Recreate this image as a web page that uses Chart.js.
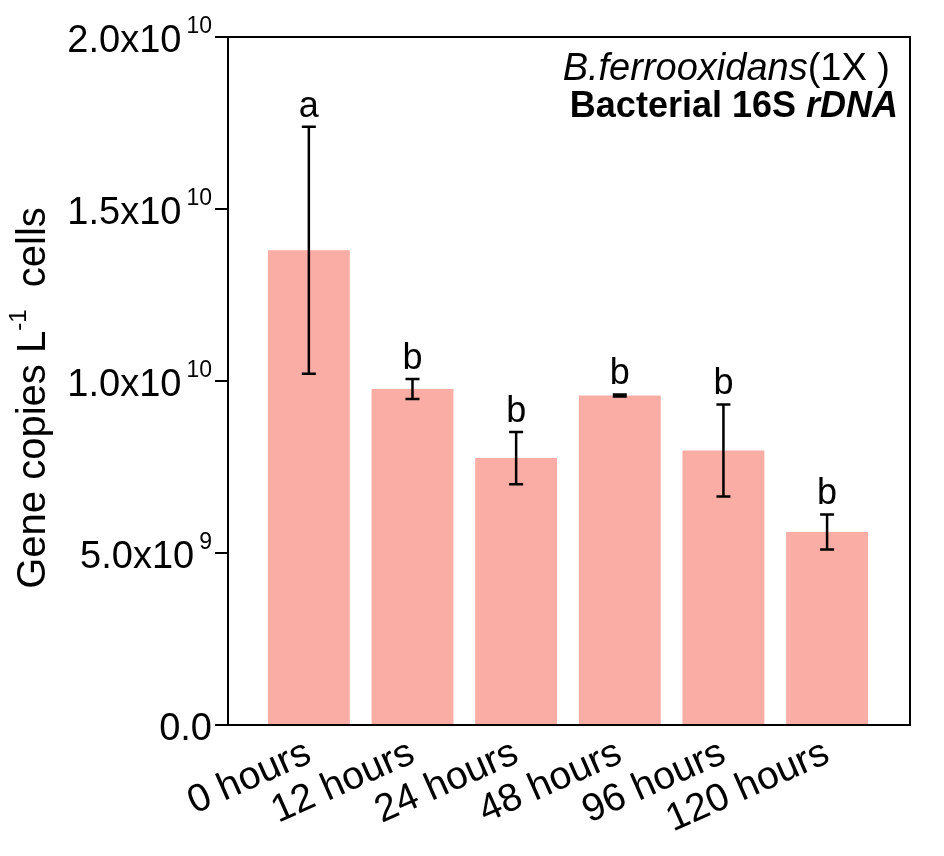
<!DOCTYPE html>
<html>
<head>
<meta charset="utf-8">
<script src="https://cdn.jsdelivr.net/npm/chart.js@4.4.0/dist/chart.umd.min.js"></script>
<style>
html, body { margin: 0; padding: 0; background: #fff; }
#wrap { width: 944px; height: 856px; }
</style>
</head>
<body>
<div id="wrap"><canvas id="chart"></canvas></div>
<script>
// data
var categories = ['0 hours', '12 hours', '24 hours', '48 hours', '96 hours', '120 hours'];
var geneCopies = [1.380e10, 0.977e10, 0.776e10, 0.958e10, 0.798e10, 0.561e10];
var errors = [0.359e10, 0.029e10, 0.076e10, 0.003e10, 0.134e10, 0.051e10];
var letters = ['a', 'b', 'b', 'b', 'b', 'b'];
var yTicks = [0, 5e9, 1e10, 1.5e10, 2e10];

var FONT = '"Liberation Sans", Arial, sans-serif';
Chart.defaults.font.family = FONT;
Chart.defaults.color = '#000';

// split 1.5e10 -> ["1.5x10", "10"]
function sciParts(v) {
    if (v === 0) return ['0.0', ''];
    var e = Math.floor(Math.log10(v) + 1e-9);
    return [(v / Math.pow(10, e)).toFixed(1) + 'x10', String(e)];
}

// draw a run of [text, font, dy] pieces starting at x
function drawRun(ctx, pieces, x, y) {
    pieces.forEach(function(p) {
        ctx.font = p[1];
        ctx.fillText(p[0], x, y + (p[2] || 0));
        x += ctx.measureText(p[0]).width;
    });
}
function runWidth(ctx, pieces) {
    var w = 0;
    pieces.forEach(function(p) { ctx.font = p[1]; w += ctx.measureText(p[0]).width; });
    return w;
}

var decorations = {
    id: 'decorations',
    afterDatasetsDraw: function(chart) {
        var ctx = chart.ctx, xs = chart.scales.x, ys = chart.scales.y, a = chart.chartArea;
        ctx.save();
        ctx.fillStyle = '#000';
        ctx.strokeStyle = '#000';

        // frame
        ctx.lineWidth = 2;
        ctx.strokeRect(a.left, a.top, a.right - a.left, a.bottom - a.top);

        // error bars + significance letters
        ctx.lineWidth = 2.5;
        ctx.textBaseline = 'alphabetic';
        geneCopies.forEach(function(v, i) {
            var x = xs.getPixelForValue(i);
            var top = ys.getPixelForValue(v + errors[i]);
            var bot = ys.getPixelForValue(v - errors[i]);
            ctx.beginPath();
            ctx.moveTo(x, top); ctx.lineTo(x, bot);
            ctx.moveTo(x - 7, top); ctx.lineTo(x + 7, top);
            ctx.moveTo(x - 7, bot); ctx.lineTo(x + 7, bot);
            ctx.stroke();
            ctx.font = '36px ' + FONT;
            ctx.textAlign = 'center';
            ctx.fillText(letters[i], x, top - 10);
        });

        // y tick labels with superscript exponent
        ctx.textAlign = 'left';
        yTicks.forEach(function(t) {
            var y = ys.getPixelForValue(t);
            var parts = sciParts(t);
            var pieces = [[parts[0], '38px ' + FONT, 0]];
            if (parts[1]) pieces.push([parts[1], '23px ' + FONT, -19]);
            var w = runWidth(ctx, pieces) + (parts[1] ? 5 : 0);
            var x = a.left - 16 - w;
            ctx.font = pieces[0][1];
            ctx.fillText(pieces[0][0], x, y + 15);
            if (parts[1]) {
                x += ctx.measureText(pieces[0][0]).width + 5;
                ctx.font = pieces[1][1];
                ctx.fillText(pieces[1][0], x, y + 15 + pieces[1][2]);
            }
        });

        // y axis title
        ctx.save();
        ctx.translate(45, 398);
        ctx.rotate(-Math.PI / 2);
        var ttl = [['Gene copies L', '40px ' + FONT, 0], ['-1', '24px ' + FONT, -19], ['  cells', '40px ' + FONT, 0]];
        drawRun(ctx, ttl, -runWidth(ctx, ttl) / 2, 0);
        ctx.restore();

        // panel label, right aligned
        var line1 = [['B.ferrooxidans', 'italic 38px ' + FONT, 0], ['(1X )', '38px ' + FONT, 0]];
        var line2 = [['Bacterial 16S ', 'bold 36px ' + FONT, 0], ['rDNA', 'italic bold 36px ' + FONT, 0]];
        drawRun(ctx, line1, a.right - 20 - runWidth(ctx, line1), a.top + 43);
        drawRun(ctx, line2, a.right - 12 - runWidth(ctx, line2), a.top + 80);

        ctx.restore();
    }
};

new Chart(document.getElementById('chart'), {
    type: 'bar',
    data: {
        datasets: [{
            data: geneCopies.map(function(v, i) { return { x: i, y: v }; }),
            backgroundColor: '#FAADA5',
            borderWidth: 0,
            barPercentage: 0.79,
            categoryPercentage: 1
        }]
    },
    options: {
        responsive: true,
        maintainAspectRatio: false,
        animation: false,
        layout: { padding: { left: 0, top: 37, right: 34, bottom: 0 } },
        plugins: { legend: { display: false }, tooltip: { enabled: false } },
        scales: {
            x: {
                type: 'linear',
                offset: false,
                min: -0.78,
                max: 5.8,
                afterBuildTicks: function(s) {
                    s.ticks = categories.map(function(c, i) { return { value: i }; });
                },
                afterFit: function(s) { s.height = 131; },
                grid: { display: false, drawTicks: false },
                border: { display: false },
                ticks: {
                    autoSkip: false,
                    minRotation: 24,
                    maxRotation: 24,
                    padding: 5,
                    font: { size: 39 },
                    color: '#000',
                    callback: function(v) { return categories[v]; }
                }
            },
            y: {
                min: 0,
                max: 2e10,
                afterBuildTicks: function(s) {
                    s.ticks = yTicks.map(function(t) { return { value: t }; });
                },
                afterFit: function(s) { s.width = 228; },
                grid: { drawOnChartArea: false, color: '#000', lineWidth: 2, tickLength: 13 },
                border: { display: false },
                ticks: { callback: function() { return ''; } }
            }
        }
    },
    plugins: [decorations]
});
</script>
</body>
</html>
